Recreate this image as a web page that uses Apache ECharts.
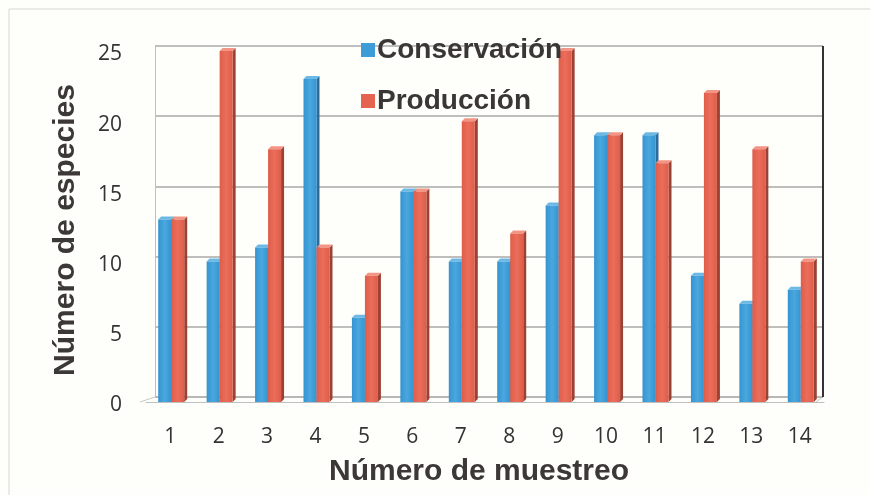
<!DOCTYPE html>
<html><head><meta charset="utf-8">
<script src="https://cdn.jsdelivr.net/npm/echarts@6/dist/echarts.min.js"></script>
<style>html,body{margin:0;padding:0;background:#fefefa}#c{width:870px;height:495px}</style>
</head><body><div id="c"></div>
<script>
const categories = ['1','2','3','4','5','6','7','8','9','10','11','12','13','14'];
const conservacion = [13,10,11,23,6,15,10,10,14,19,19,9,7,8];
const produccion = [13,25,18,11,9,15,20,12,25,19,17,22,18,10];
const yTicks = [0,5,10,15,20,25];

const chart = echarts.init(document.getElementById('c'));

function render(side, colors) {
  return function (params, api) {
    const x = api.value(0), v = api.value(1);
    const b = api.coord([x, 0]);
    const t = api.coord([x, v]);
    const bw = 13, d = 3;
    const c = b[0] + 1;
    const xl = side < 0 ? c - bw : c;
    const xr = xl + bw;
    const yb = b[1], yt = t[1];
    return {
      type: 'group',
      children: [
        { type: 'polygon', shape: { points: [[xr, yt], [xr + d, yt - d], [xr + d, yb - d], [xr, yb]] }, style: { fill: colors.side } },
        { type: 'polygon', shape: { points: [[xl, yt], [xl + d, yt - d], [xr + d, yt - d], [xr, yt]] }, style: { fill: colors.top } },
        { type: 'rect', shape: { x: xl, y: yt, width: bw, height: yb - yt },
          style: { fill: new echarts.graphic.LinearGradient(0, 0, 1, 0, [
            { offset: 0, color: colors.f1 }, { offset: 0.5, color: colors.f2 }, { offset: 1, color: colors.f1 }]) } }
      ]
    };
  };
}

const blue = { f1: '#3594d0', f2: '#4aa7df', side: '#2a6c9c', top: '#6cb9e6' };
const red = { f1: '#df5d4a', f2: '#ea6e5a', side: '#9c4234', top: '#f39585' };

chart.setOption({
  backgroundColor: '#fefefa',
  animation: false,
  graphic: [
    { type: 'rect', shape: { x: 9, y: 9, width: 900, height: 520 }, style: { fill: 'none', stroke: '#d6d6d2', lineWidth: 1 } },
    { type: 'line', shape: { x1: 823, y1: 46, x2: 823, y2: 397 }, style: { stroke: '#333', lineWidth: 2 }, z: 10 },
    { type: 'polyline', shape: { points: [[140, 402], [155, 397], [823, 397], [816, 402]] }, style: { fill: 'none', stroke: '#c8c8c8', lineWidth: 1 } },
    { type: 'text', x: 479, y: 472, style: { text: 'Número de muestreo', font: 'bold 30px "Liberation Sans", Arial, sans-serif', fill: '#3c3838', align: 'center', verticalAlign: 'middle' } },
    { type: 'text', x: 66, y: 230, rotation: Math.PI / 2, style: { text: 'Número de especies', font: 'bold 30px "Liberation Sans", Arial, sans-serif', fill: '#3c3838', align: 'center', verticalAlign: 'middle' } }
  ],
  legend: {
    orient: 'vertical', left: 356, top: 31,
    itemWidth: 14, itemHeight: 14, itemGap: 23, icon: 'rect',
    textStyle: { fontSize: 28, fontWeight: 'bold', color: '#3a3636', fontFamily: '"Liberation Sans", Arial, sans-serif', padding: [0, 0, 0, -3] },
    data: ['Conservación', 'Producción']
  },
  grid: [
    { left: 155, right: 47, top: 46, bottom: 98 },
    { left: 146, right: 46, top: 51, bottom: 93 }
  ],
  xAxis: [
    { gridIndex: 0, type: 'category', data: categories, show: false },
    { gridIndex: 1, type: 'category', data: categories,
      axisLine: { lineStyle: { color: '#c0c0c0' } }, axisTick: { show: false },
      axisLabel: { margin: 25, fontSize: 21, color: '#333', fontFamily: '"Open Sans", "Liberation Sans", sans-serif' } }
  ],
  yAxis: [
    { gridIndex: 0, type: 'value', min: 0, max: 25, interval: 5,
      axisLine: { show: true, lineStyle: { color: '#c0c0c0' } }, axisTick: { show: false }, axisLabel: { show: false },
      splitLine: { lineStyle: { color: '#a8a8a8', width: 1.5 } } },
    { gridIndex: 1, type: 'value', min: 0, max: 25, interval: 5,
      axisLine: { show: false }, axisTick: { show: false }, splitLine: { show: false },
      axisLabel: { margin: 24, color: '#333',
        formatter: v => yTicks.includes(v) ? '{a|' + v + '}' : '',
        rich: { a: { fontSize: 21, color: '#333', fontFamily: '"Open Sans", "Liberation Sans", sans-serif', padding: [7, 0, 0, 0] } } } }
  ],
  series: [
    { name: 'Conservación', type: 'custom', xAxisIndex: 1, yAxisIndex: 1, itemStyle: { color: '#3d9cd8' },
      renderItem: render(-1, blue), encode: { x: 0, y: 1 },
      data: conservacion.map((v, i) => [i, v]) },
    { name: 'Producción', type: 'custom', xAxisIndex: 1, yAxisIndex: 1, itemStyle: { color: '#e5644f' },
      renderItem: render(1, red), encode: { x: 0, y: 1 },
      data: produccion.map((v, i) => [i, v]) }
  ]
});
</script></body></html>
